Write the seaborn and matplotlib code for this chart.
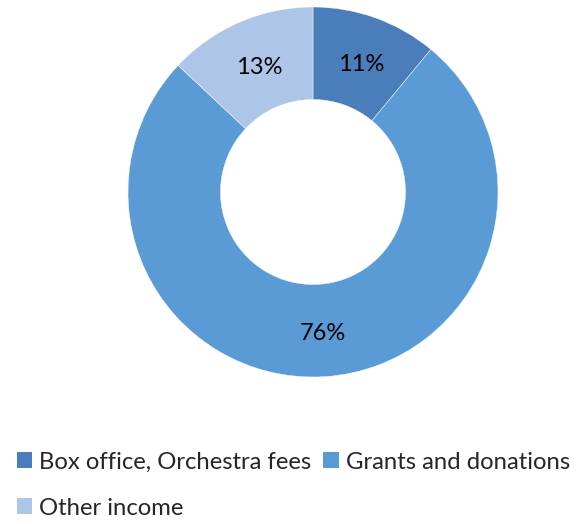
import matplotlib
matplotlib.use("Agg")
import matplotlib.pyplot as plt
import matplotlib.transforms as mtransforms
from matplotlib.patches import Patch
import seaborn as sns

categories = ["Box office, Orchestra fees", "Grants and donations", "Other income"]
shares = [11, 76, 13]
colors = ["#4A7EBB", "#5B9BD5", "#ADC5E7"]

sns.set_theme(style="white")
plt.rcParams["font.family"] = ["Lato", "DejaVu Sans"]

W, H = 585, 524
fig = plt.figure(figsize=(W / 100, H / 100), dpi=100)
cx, cy, r = 313, 192, 185
ax = fig.add_axes([(cx - r) / W, (H - cy - r) / H, 2 * r / W, 2 * r / H])

wedges, texts, autotexts = ax.pie(
    shares,
    colors=colors,
    startangle=90,
    counterclock=False,
    radius=1,
    autopct=lambda p: f"{p:.0f}%",
    pctdistance=0.75,
    wedgeprops=dict(width=0.5, edgecolor="white", linewidth=0.3),
    textprops=dict(fontsize=17, color="black"),
)
# nudge the percentage labels slightly downward
for t in autotexts:
    t.set_transform(mtransforms.offset_copy(t.get_transform(), fig=fig, x=1, y=-3, units="dots"))

ax.set_xlim(-1, 1)
ax.set_ylim(-1, 1)
ax.set_aspect("equal")
ax.axis("off")

# legend rows: Box office | Grants, then Other income (legend fills column-first)
order = [0, 2, 1]
handles = [Patch(facecolor=colors[i], edgecolor="none") for i in order]
labels = [categories[i] for i in order]
fig.legend(
    handles, labels,
    loc="upper left",
    bbox_to_anchor=(7 / W, 1 - 442 / H),
    ncol=2,
    frameon=False,
    fontsize=17.2,
    handlelength=0.65,
    handleheight=0.65,
    handletextpad=0.3,
    columnspacing=0.5,
    labelspacing=1.05,
    borderaxespad=0,
)

fig.savefig("out.png", dpi=100)
